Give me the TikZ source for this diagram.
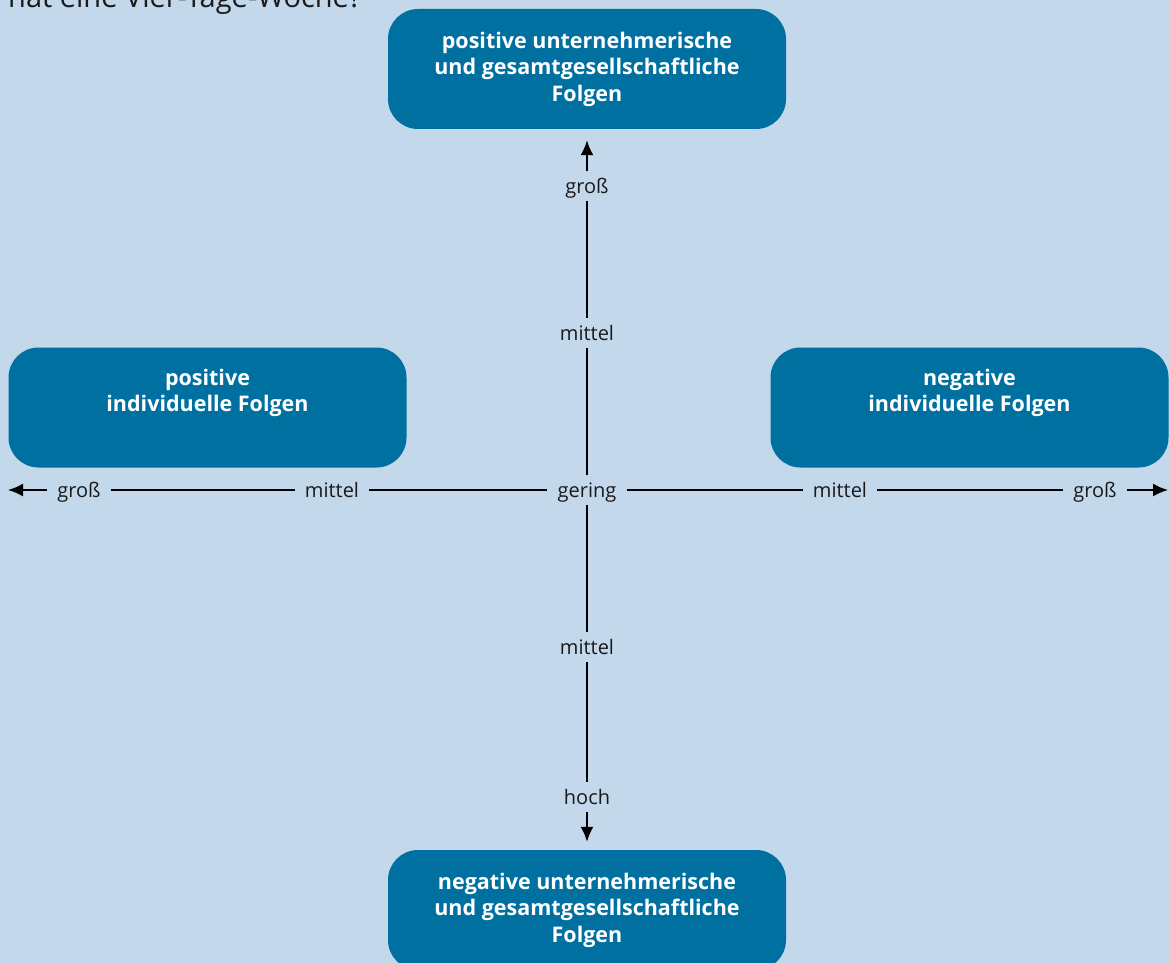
\documentclass[tikz,border=0pt]{standalone}
\usepackage{fontspec}
\setmainfont{Open Sans}
\usetikzlibrary{arrows.meta}
\definecolor{bgblue}{HTML}{C3D8EB}
\definecolor{boxblue}{HTML}{0070A1}
\definecolor{txt}{HTML}{1A1A1A}
\tikzset{
  box/.style={rounded corners=30pt, fill=boxblue, text=white, align=center,
    font=\bfseries\fontsize{21.5}{26.5}\selectfont, minimum width=398pt, minimum height=120pt, inner sep=0pt},
  lab/.style={font=\fontsize{20}{22}\selectfont, text=txt, inner xsep=10pt, inner ysep=0pt,
    text height=14pt, text depth=0pt, minimum height=30pt},
  axis/.style={line width=1.9pt, draw=black},
  tip/.style={-{Latex[length=15pt,width=13pt]}}
}
\begin{document}
\begin{tikzpicture}[x=1pt,y=-1pt]
\useasboundingbox (0,0) rectangle (1169,963);
\clip (0,0) rectangle (1169,963);
\fill[bgblue] (0,0) rectangle (1169,963);
\node[anchor=base west, inner sep=0pt, text=txt, font=\fontsize{29}{34}\selectfont] (head) at (8,8) {hat eine Vier-Tage-Woche?};
\node[box] (top) at (587,69) {positive unternehmerische\\und gesamtgesellschaftliche\\Folgen};
\node[box] (left) at (207.5,407.5) {positive\\individuelle Folgen\\\strut};
\node[box] (right) at (969.5,407.5) {negative\\individuelle Folgen\\\strut};
\node[box] (bottom) at (587,910) {negative unternehmerische\\und gesamtgesellschaftliche\\Folgen};
% vertical labels
\node[lab] (vg) at (587,186) {groß};
\node[lab] (vm1) at (587,333) {mittel};
\node[lab] (c) at (587,490) {gering};
\node[lab] (vm2) at (587,647) {mittel};
\node[lab] (vh) at (587,797) {hoch};
% horizontal labels
\node[lab] (lg) at (79,490) {groß};
\node[lab] (lm) at (332,490) {mittel};
\node[lab] (rm) at (840,490) {mittel};
\node[lab] (rg) at (1095,490) {groß};
\coordinate (lend) at (8,490);
\coordinate (rend) at (1168,490);
% vertical axis
\draw[axis,tip,shorten >=11pt] (vg) -- (top);
\draw[axis] (vg) -- (vm1);
\draw[axis] (vm1) -- (c);
\draw[axis] (c) -- (vm2);
\draw[axis] (vm2) -- (vh);
\draw[axis,tip,shorten >=8pt] (vh) -- (bottom);
% horizontal axis
\draw[axis,tip] (lg) -- (lend);
\draw[axis] (lg) -- (lm);
\draw[axis] (lm) -- (c);
\draw[axis] (c) -- (rm);
\draw[axis] (rm) -- (rg);
\draw[axis,tip] (rg) -- (rend);
\end{tikzpicture}
\end{document}
